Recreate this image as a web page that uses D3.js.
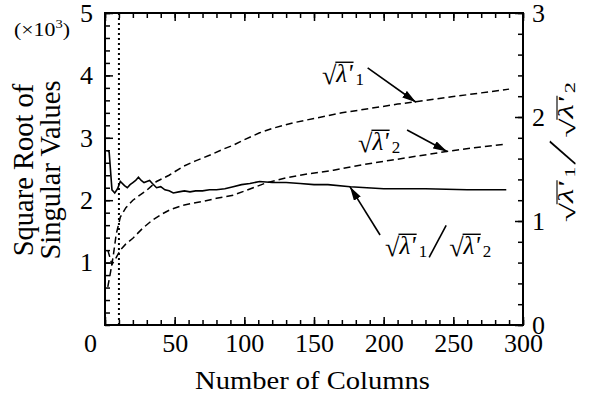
<!DOCTYPE html>
<html>
<head>
<meta charset="utf-8">
<script src="https://cdn.jsdelivr.net/npm/d3@7"></script>
</head>
<body style="margin:0">
<svg id="chart" width="594" height="399"></svg>
<script>
// ratio sqrt(l1)/sqrt(l2), right axis
const ratioX = [2, 3, 5, 7, 9, 11, 14, 16, 18, 20, 22, 24, 26, 28, 30, 32, 34, 37, 40, 43, 46, 49, 53, 57, 61, 65, 70, 75, 80, 86, 92, 98, 104, 111, 120, 130, 140, 150, 160, 176, 200, 230, 260, 288];
const ratioY = [1.68, 1.66, 1.30, 1.27, 1.31, 1.38, 1.34, 1.32, 1.35, 1.37, 1.39, 1.42, 1.39, 1.37, 1.38, 1.39, 1.36, 1.32, 1.33, 1.30, 1.29, 1.27, 1.28, 1.29, 1.28, 1.29, 1.29, 1.30, 1.30, 1.31, 1.33, 1.35, 1.36, 1.38, 1.37, 1.37, 1.36, 1.35, 1.35, 1.33, 1.31, 1.31, 1.30, 1.30];

// sqrt(l'1), left axis (x10^3)
const lam1X = [2, 4, 6, 8, 11, 15, 20, 25, 30, 37, 46, 56, 65, 75, 85, 92, 100, 111, 120, 135, 150, 170, 190, 210, 230, 250, 270, 290];
const lam1Y = [0.61, 0.85, 1.12, 1.45, 1.73, 1.88, 2.00, 2.08, 2.16, 2.30, 2.40, 2.54, 2.63, 2.72, 2.82, 2.88, 2.97, 3.08, 3.15, 3.24, 3.31, 3.40, 3.47, 3.54, 3.60, 3.66, 3.72, 3.78];

// sqrt(l'2), left axis (x10^3)
const lam2X = [2, 5, 8, 11, 15, 20, 27, 34, 41, 47, 56, 70, 80, 92, 104, 116, 130, 145, 164, 185, 205, 225, 245, 265, 288];
const lam2Y = [1.20, 0.97, 1.08, 1.20, 1.30, 1.39, 1.55, 1.68, 1.78, 1.85, 1.92, 1.98, 2.03, 2.08, 2.18, 2.28, 2.36, 2.42, 2.48, 2.57, 2.64, 2.71, 2.78, 2.84, 2.90];

const xTicks = [0, 50, 100, 150, 200, 250, 300];
const leftTicks = [1, 2, 3, 4, 5];
const rightTicks = [0, 1, 2, 3];
const cutoffX = 10;

const width = 594, height = 399;
const margin = { top: 13, right: 71, bottom: 74, left: 105 };
const serif = 'Liberation Serif';

const svg = d3.select('#chart');

const x = d3.scaleLinear().domain([0, 300]).range([margin.left, width - margin.right]);
const yL = d3.scaleLinear().domain([0, 5]).range([height - margin.bottom, margin.top]);
const yR = d3.scaleLinear().domain([0, 3]).range([height - margin.bottom, margin.top]);

const bottomY = height - margin.bottom;
const rightX = width - margin.right;
const fmt = d3.format('d');

function txt(g) {
    return g.append('text').attr('font-family', serif).style('font-family', `"${serif}"`).attr('fill', '#000');
}

function styleAxis(g) {
    g.attr('font-family', serif);
    g.select('.domain').remove();
    g.selectAll('line').attr('stroke', '#000').attr('stroke-width', 1.5);
    g.selectAll('text').attr('font-size', 26).attr('font-family', serif).style('font-family', `"${serif}"`);
}

// minor ticks
svg.append('g').attr('transform', `translate(0,${bottomY})`)
    .call(d3.axisBottom(x).ticks(30).tickSize(-5).tickFormat(''))
    .call(styleAxis);
svg.append('g').attr('transform', `translate(0,${margin.top})`)
    .call(d3.axisTop(x).ticks(30).tickSize(-5).tickFormat(''))
    .call(styleAxis);
svg.append('g').attr('transform', `translate(${margin.left},0)`)
    .call(d3.axisLeft(yL).ticks(25).tickSize(-5).tickFormat(''))
    .call(styleAxis);
svg.append('g').attr('transform', `translate(${rightX},0)`)
    .call(d3.axisRight(yR).ticks(15).tickSize(-5).tickFormat(''))
    .call(styleAxis);

// major ticks + labels
const xAxis = svg.append('g').attr('transform', `translate(0,${bottomY})`)
    .call(d3.axisBottom(x).tickValues(xTicks).tickFormat(fmt).tickSize(-8).tickPadding(9))
    .call(styleAxis);
xAxis.selectAll('.tick text').filter(d => d === 0).attr('dx', -15);

svg.append('g').attr('transform', `translate(0,${margin.top})`)
    .call(d3.axisTop(x).tickValues(xTicks).tickSize(-8).tickFormat(''))
    .call(styleAxis);

svg.append('g').attr('transform', `translate(${margin.left},0)`)
    .call(d3.axisLeft(yL).tickValues(leftTicks).tickFormat(fmt).tickSize(-8).tickPadding(12))
    .call(styleAxis);

svg.append('g').attr('transform', `translate(${rightX},0)`)
    .call(d3.axisRight(yR).tickValues(rightTicks).tickFormat(fmt).tickSize(-8).tickPadding(9))
    .call(styleAxis);

// frame
svg.append('rect')
    .attr('x', margin.left).attr('y', margin.top)
    .attr('width', rightX - margin.left)
    .attr('height', bottomY - margin.top)
    .attr('fill', 'none').attr('stroke', '#000').attr('stroke-width', 2);

// dotted cutoff line
svg.append('line')
    .attr('x1', x(cutoffX)).attr('x2', x(cutoffX))
    .attr('y1', margin.top).attr('y2', bottomY)
    .attr('stroke', '#000').attr('stroke-width', 2)
    .attr('stroke-dasharray', '2,3');

const lineL = d3.line().x(d => x(d[0])).y(d => yL(d[1]));
const lineR = d3.line().x(d => x(d[0])).y(d => yR(d[1]));

svg.append('path').attr('d', lineL(d3.zip(lam1X, lam1Y)))
    .attr('fill', 'none').attr('stroke', '#000').attr('stroke-width', 1.5)
    .attr('stroke-dasharray', '7,4');
svg.append('path').attr('d', lineL(d3.zip(lam2X, lam2Y)))
    .attr('fill', 'none').attr('stroke', '#000').attr('stroke-width', 1.5)
    .attr('stroke-dasharray', '7,4');
svg.append('path').attr('d', lineR(d3.zip(ratioX, ratioY)))
    .attr('fill', 'none').attr('stroke', '#000').attr('stroke-width', 1.6);

// axis titles
const unit = txt(svg).attr('x', 14).attr('y', 36).attr('font-size', 18)
    .attr('textLength', 56).attr('lengthAdjust', 'spacingAndGlyphs');
unit.append('tspan').text('(×10');
unit.append('tspan').attr('dy', -8).attr('font-size', 12).text('3');
unit.append('tspan').attr('dy', 8).text(')');

txt(svg)
    .attr('font-size', 26)
    .attr('x', 195)
    .attr('y', 389)
    .attr('textLength', 235).attr('lengthAdjust', 'spacingAndGlyphs')
    .text('Number of Columns');

const yTitle = txt(svg)
    .attr('text-anchor', 'middle')
    .attr('font-size', 28.5)
    .attr('transform', `translate(33,170) rotate(-90)`);
yTitle.append('tspan').attr('x', 0).attr('y', 0).text('Square Root of');
yTitle.append('tspan').attr('x', 0).attr('y', 27).text('Singular Values');

// sqrt(lambda') label builder
function sqrtTerm(g, x0, y0, sub, fs) {
    const r = txt(g).attr('x', x0).attr('y', y0 + 2).attr('font-size', fs * 1.05).text('√');
    const w1 = r.node().getComputedTextLength();
    const lam = txt(g).attr('x', x0 + w1).attr('y', y0)
        .attr('font-size', fs).attr('font-style', 'italic').text("λ'");
    const w2 = lam.node().getComputedTextLength();
    g.append('line')
        .attr('x1', x0 + w1 - 1).attr('x2', x0 + w1 + w2 + 1)
        .attr('y1', y0 - fs * 0.8).attr('y2', y0 - fs * 0.8)
        .attr('stroke', '#000').attr('stroke-width', 1.4);
    const s = txt(g).attr('x', x0 + w1 + w2 + 3).attr('y', y0 + 3)
        .attr('font-size', fs * 0.68).text(sub);
    return w1 + w2 + 3 + s.node().getComputedTextLength();
}

function ratioLabel(g, x0, y0, fs) {
    const w = sqrtTerm(g, x0, y0, '1', fs);
    const sx = x0 + w + 2;
    g.append('line')
        .attr('x1', sx).attr('y1', y0 + 3)
        .attr('x2', sx + 17).attr('y2', y0 - 29)
        .attr('stroke', '#000').attr('stroke-width', 1.6);
    sqrtTerm(g, sx + 20, y0, '2', fs);
}

sqrtTerm(svg.append('g'), x(155.7), yL(3.89), '1', 25);
sqrtTerm(svg.append('g'), x(181.6), yL(2.80), '2', 25);
ratioLabel(svg.append('g'), x(201), yR(0.68), 25);

// right axis title: same formula, drawn rotated and stretched along the axis
const rTitle = svg.append('g');
const rInner = rTitle.append('g');
ratioLabel(rInner, 0, 0, 25);
const rb = rInner.node().getBBox();
const stretch = 140 / rb.width;
rTitle.attr('transform', `translate(573,${yR(1.0) + 1}) rotate(-90) scale(${stretch},0.8) translate(${-rb.x},0)`);

// arrows
svg.append('defs').append('marker')
    .attr('id', 'arrow')
    .attr('viewBox', '0 0 14 8')
    .attr('refX', 14).attr('refY', 4)
    .attr('markerWidth', 14).attr('markerHeight', 8)
    .attr('markerUnits', 'userSpaceOnUse')
    .attr('orient', 'auto')
    .append('path').attr('d', 'M0,0 L14,4 L0,8 z').attr('fill', '#000');

const arrows = [
    { x1: x(188.5), y1: yL(4.12), x2: x(223.2), y2: yL(3.57) },
    { x1: x(216.8), y1: yL(3.125), x2: x(245.5), y2: yL(2.78) },
    { x1: x(197.4), y1: yR(0.865), x2: x(175.8), y2: yR(1.33) }
];
svg.selectAll('.arrow').data(arrows).enter().append('line')
    .attr('class', 'arrow')
    .attr('x1', d => d.x1).attr('y1', d => d.y1)
    .attr('x2', d => d.x2).attr('y2', d => d.y2)
    .attr('stroke', '#000').attr('stroke-width', 1.6)
    .attr('marker-end', 'url(#arrow)');
</script>
</body>
</html>
